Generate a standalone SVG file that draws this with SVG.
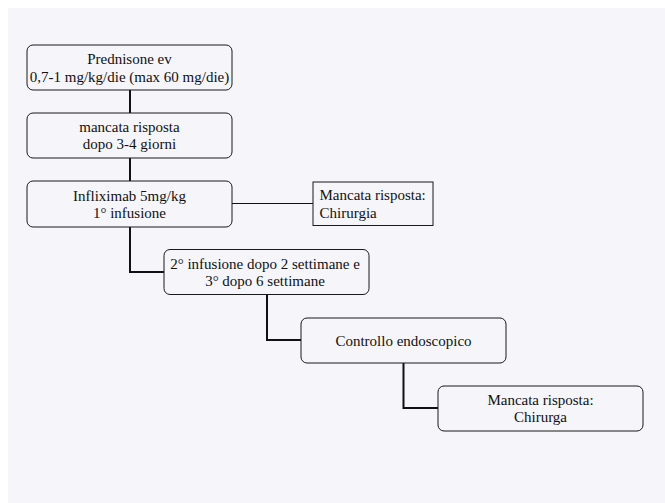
<svg xmlns="http://www.w3.org/2000/svg" width="665" height="503" viewBox="0 0 665 503">
  <style>
    .box { fill: #f5f5fa; stroke: #1a1a1a; stroke-width: 1; }
    .lbl { font-family: "Liberation Serif", "Times New Roman", serif; font-size: 15px; fill: #111; text-anchor: middle; }
    .lbl-l { text-anchor: start; }
    .link { fill: none; stroke: #111; stroke-width: 2; }
    .thin { stroke-width: 1; }
  </style>
  <rect width="665" height="503" fill="#ffffff"/>
  <rect x="8" y="8" width="657" height="495" fill="#f5f5fa"/>

  <g id="connectors">
    <path class="link" d="M130,90 V113"/>
    <path class="link" d="M130,158 V181"/>
    <path class="link thin" d="M232,203.5 H313"/>
    <path class="link" d="M130,227 V272 H164"/>
    <path class="link" d="M267,294 V340 H301"/>
    <path class="link" d="M403.5,363 V408 H438"/>
  </g>

  <g id="prednisone">
    <rect class="box" x="27" y="45" width="205" height="45" rx="6"/>
    <text class="lbl" x="129.5" y="64">Prednisone ev</text>
    <text class="lbl" x="129.5" y="81.5">0,7-1 mg/kg/die (max 60 mg/die)</text>
  </g>

  <g id="mancata-risposta-1">
    <rect class="box" x="27" y="113" width="205" height="45" rx="6"/>
    <text class="lbl" x="129.5" y="131.5">mancata risposta</text>
    <text class="lbl" x="129.5" y="148.5">dopo 3-4 giorni</text>
  </g>

  <g id="infliximab">
    <rect class="box" x="27" y="181" width="205" height="46" rx="6"/>
    <text class="lbl" x="129.5" y="201">Infliximab 5mg/kg</text>
    <text class="lbl" x="129.5" y="218">1° infusione</text>
  </g>

  <g id="chirurgia-1">
    <rect class="box" x="313" y="182" width="120" height="43.5" rx="0"/>
    <text class="lbl lbl-l" x="319.5" y="200">Mancata risposta:</text>
    <text class="lbl lbl-l" x="319.5" y="217.5">Chirurgia</text>
  </g>

  <g id="infusioni">
    <rect class="box" x="164" y="249.5" width="205" height="45" rx="6"/>
    <text class="lbl" x="265" y="269">2° infusione dopo 2 settimane e</text>
    <text class="lbl" x="265" y="286">3° dopo 6 settimane</text>
  </g>

  <g id="controllo">
    <rect class="box" x="301" y="318" width="205" height="45" rx="6"/>
    <text class="lbl" x="403.5" y="345.5">Controllo endoscopico</text>
  </g>

  <g id="chirurgia-2">
    <rect class="box" x="438" y="386" width="205" height="45" rx="6"/>
    <text class="lbl" x="540.5" y="405">Mancata risposta:</text>
    <text class="lbl" x="540.5" y="422">Chirurga</text>
  </g>
</svg>
